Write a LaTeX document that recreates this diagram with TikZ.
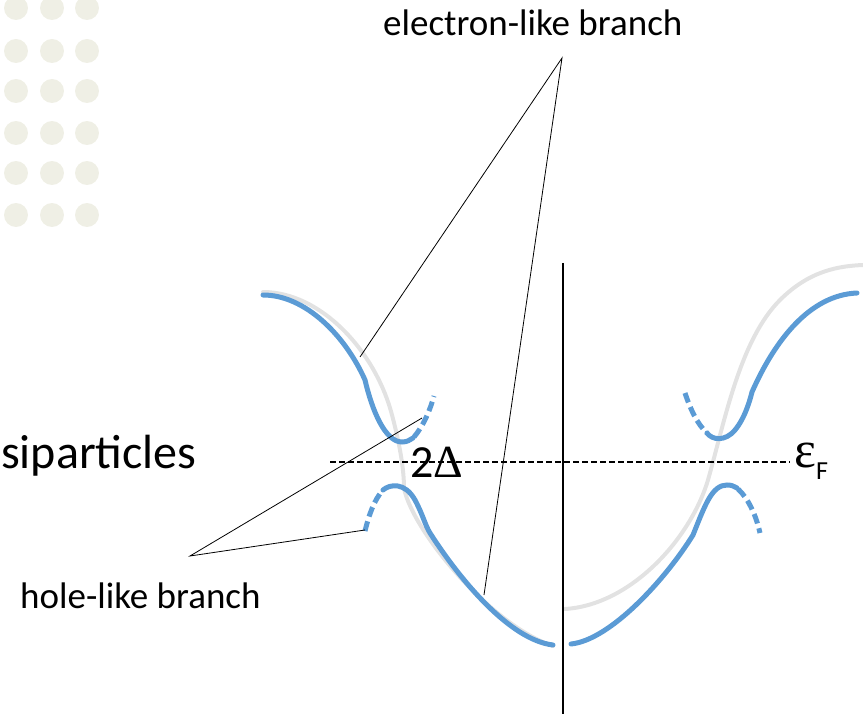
\documentclass[tikz,border=0pt]{standalone}
\usepackage{fontspec}
\setmainfont{Carlito}
\newfontfamily\grkfont{Liberation Serif}
\definecolor{bandblue}{RGB}{91,155,213}
\definecolor{bandgrey}{RGB}{226,226,226}
\definecolor{dotbeige}{RGB}{239,239,229}
\tikzset{
  band/.style={color=bandblue, line width=5pt, line cap=round},
  gapband/.style={color=bandblue, line width=5pt, dash pattern=on 10pt off 5pt},
  normalband/.style={color=bandgrey, line width=4pt, line cap=round},
  leader/.style={line width=0.8pt},
  lbl/.style={inner sep=0pt, anchor=base west}
}
\begin{document}
\begin{tikzpicture}[x=1pt,y=-1pt]
  \useasboundingbox (0,0) rectangle (863,714);
  % background dots
  \foreach \dx in {16,52,87}
    \foreach \dy in {8,51,91,133,173,215}
      \fill[dotbeige] (\dx,\dy) circle[radius=12];

  % normal-state dispersion
  \draw[normalband] (263,292) .. controls (320,292) and (375,350) .. (392,415)
    .. controls (400,445) and (404,470) .. (404,488)
    .. controls (412,530) and (490,625) .. (553,646);
  \draw[normalband] (565,609) .. controls (630,605) and (690,540) .. (708,480)
    .. controls (725,420) and (740,340) .. (780,300)
    .. controls (810,270) and (840,266) .. (863,265);

  % axis and Fermi level
  \coordinate (axtop) at (563,263);
  \coordinate (axbot) at (563,714);
  \draw[line width=1.6pt] (axtop) -- (axbot);
  \coordinate (efl) at (330,462);
  \coordinate (efr) at (790,462);
  \draw[line width=1.2pt, dash pattern=on 6pt off 3pt] (efl) -- (efr);

  % quasiparticle branches
  \draw[band] (263,295) .. controls (305,295) and (345,335) .. (365,380)
    .. controls (372,410) and (385,442) .. (402,442)
    .. controls (407,442) and (410,440) .. (413,438);
  \draw[gapband] (414,437) .. controls (424,425) and (430,410) .. (434,396);
  \draw[gapband] (365,531) .. controls (369,515) and (374,500) .. (383,490);
  \draw[band] (383,490) .. controls (390,484) and (405,482) .. (415,500)
    .. controls (423,515) and (425,525) .. (430,533)
    .. controls (460,580) and (510,640) .. (553,645);
  \draw[band] (571,644) .. controls (610,640) and (665,580) .. (693,535)
    .. controls (705,505) and (712,485) .. (727,485)
    .. controls (731,485) and (734,486) .. (737,488);
  \draw[gapband] (738,489) .. controls (748,498) and (756,515) .. (760,533);
  \draw[gapband] (685,393) .. controls (690,408) and (697,424) .. (707,433);
  \draw[band] (707,433) .. controls (712,440) and (725,442) .. (735,430)
    .. controls (745,418) and (750,400) .. (752,392)
    .. controls (775,340) and (810,295) .. (857,293);

  % labels
  \node[lbl] (elabel) at (383,36) {\fontsize{37}{37}\selectfont electron-like branch};
  \node[lbl] (hlabel) at (20,608) {\fontsize{37}{37}\selectfont hole-like branch};
  \node[lbl] (qplabel) at (1,468) {\fontsize{48}{48}\selectfont siparticles};
  \node[lbl] (gap) at (410,477) {\fontsize{46}{46}\selectfont 2{\grkfont Δ}};
  \node[lbl] (fermi) at (794,467) {\fontsize{52}{52}\selectfont{\grkfont ε}\raisebox{-13pt}{\fontsize{26}{26}\selectfont F}};

  % leader lines
  \coordinate (eapex) at (562,58);
  \coordinate (eup) at (360,357);
  \coordinate (elow) at (484,595);
  \coordinate (hapex) at (190,556);
  \coordinate (hup) at (422,418);
  \coordinate (hlow) at (365,530);
  \draw[leader] (eup) -- (eapex) -- (elow);
  \draw[leader] (hup) -- (hapex) -- (hlow);
\end{tikzpicture}
\end{document}
